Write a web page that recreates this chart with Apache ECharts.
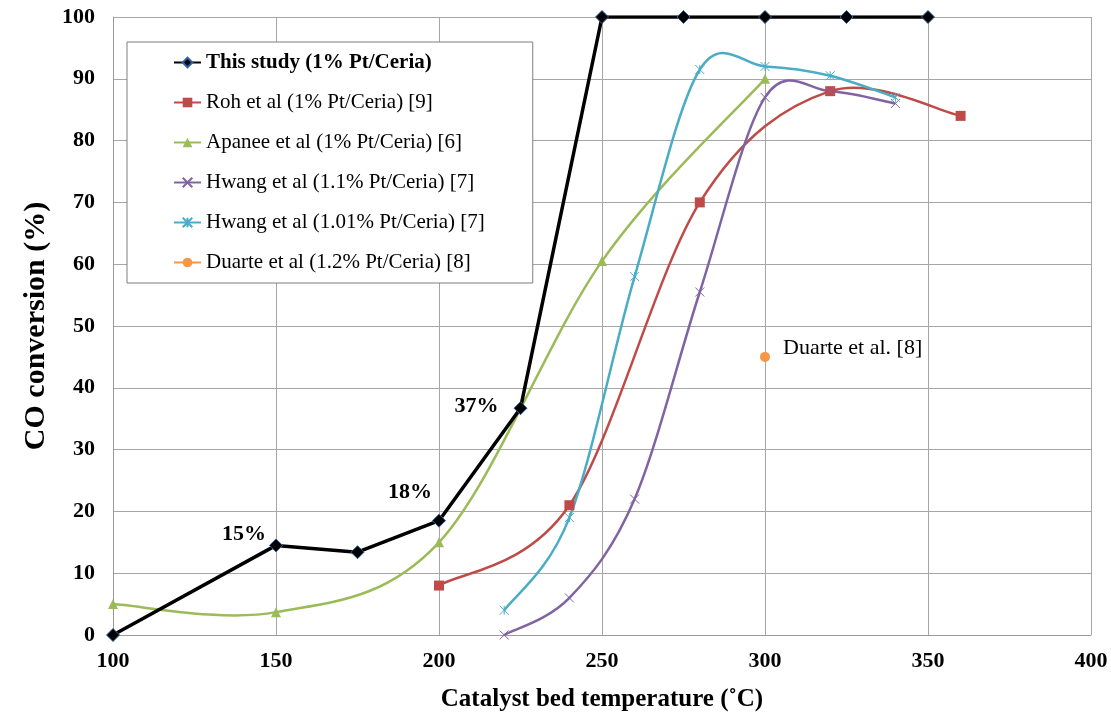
<!DOCTYPE html>
<html><head><meta charset="utf-8">
<script src="https://cdn.jsdelivr.net/npm/echarts@6/dist/echarts.min.js"></script>
<style>html,body{margin:0;padding:0;background:#fff}#c{width:1111px;height:717px}</style>
</head><body><div id="c"></div>
<script>
const thisStudy = [[100,0],[150,14.5],[175,13.4],[200,18.5],[225,36.7],[250,100],[275,100],[300,100],[325,100],[350,100]];
const roh = [[200,8],[240,21],[280,70],[320,88],[360,84]];
const apanee = [[100,5],[150,3.7],[200,15],[250,60.5],[300,90]];
const hwang11 = [[220,0],[240,6],[260,22],[280,55.5],[300,87],[320,88],[340,86]];
const hwang101 = [[220,4],[240,19],[260,58],[280,91.5],[300,92],[320,90.5],[340,87]];
const duarte = [[300,45]];
const pointLabels = {150:'15%',200:'18%',225:'37%'};
const names = ['This study (1% Pt/Ceria)','Roh et al (1% Pt/Ceria) [9]','Apanee et al (1% Pt/Ceria) [6]','Hwang et al (1.1% Pt/Ceria) [7]','Hwang et al (1.01% Pt/Ceria) [7]','Duarte et al (1.2% Pt/Ceria) [8]'];
const xTicks = [100,150,200,250,300,350,400];
const yTicks = [0,10,20,30,40,50,60,70,80,90,100];

const font = 'Liberation Serif, Times New Roman, serif';
const labelCfg = {150:{distance:3,offset:[0,-11]},200:{distance:0,offset:[0,-28]},225:{distance:15,offset:[0,-2]}};
const studyData = thisStudy.map(p => {
  if (pointLabels[p[0]]) {
    const c = labelCfg[p[0]];
    return {value:p, label:{show:true, formatter:pointLabels[p[0]], position:'left', distance:c.distance, offset:c.offset, fontFamily:font, fontWeight:'bold', fontSize:22, color:'#000'}};
  }
  return p;
});
const crossPath = 'path://M0,0L10,10M10,0L0,10';
const starPath = 'path://M0,0L10,10M10,0L0,10M5,0L5,10';

// Excel-like (Catmull-Rom) smoothed curve drawn through the chart's own coordinate system
function smoothCurve(data, color, width) {
  return {
    type:'custom', coordinateSystem:'cartesian2d', data:data, silent:true, z:2,
    renderItem:(params, api) => {
      if (params.dataIndex !== 0) return null;
      const p = data.map(d => api.coord(d));
      const n = p.length;
      let d = 'M' + p[0][0] + ',' + p[0][1];
      for (let i = 0; i < n - 1; i++) {
        const p0 = p[Math.max(i - 1, 0)], p1 = p[i], p2 = p[i + 1], p3 = p[Math.min(i + 2, n - 1)];
        const c1x = p1[0] + (p2[0] - p0[0]) / 6, c1y = p1[1] + (p2[1] - p0[1]) / 6;
        const c2x = p2[0] - (p3[0] - p1[0]) / 6, c2y = p2[1] - (p3[1] - p1[1]) / 6;
        d += 'C' + c1x + ',' + c1y + ',' + c2x + ',' + c2y + ',' + p2[0] + ',' + p2[1];
      }
      return {type:'path', shape:{pathData:d}, style:{fill:'none', stroke:color, lineWidth:width, lineJoin:'round'}};
    }
  };
}

const cRoh = '#BE4B48', cApa = '#9BBB59', cH11 = '#8064A2', cH101 = '#4BACC6', cDu = '#F79646';

const chart = echarts.init(document.getElementById('c'));
chart.setOption({
  animation:false,
  backgroundColor:'#fff',
  grid:{left:113,right:20,top:17,bottom:79},
  xAxis:{type:'value',min:100,max:400,interval:50,
    name:'Catalyst bed temperature (˚C)',nameLocation:'middle',nameGap:52,
    nameTextStyle:{fontFamily:font,fontWeight:'bold',fontSize:25,color:'#000'},
    axisLine:{show:true,lineStyle:{color:'#9a9a9a'}},axisTick:{show:false},
    axisLabel:{fontFamily:font,fontWeight:'bold',fontSize:22,color:'#000',margin:15,
      formatter:v=>xTicks.includes(v)?String(v):''},
    splitLine:{show:true,lineStyle:{color:'#a6a6a6',width:1}}},
  yAxis:{type:'value',min:0,max:100,interval:10,
    name:'CO conversion (%)',nameLocation:'middle',nameGap:51,
    nameTextStyle:{fontFamily:font,fontWeight:'bold',fontSize:30,color:'#000'},
    axisLine:{show:true,lineStyle:{color:'#9a9a9a'}},axisTick:{show:false},
    axisLabel:{fontFamily:font,fontWeight:'bold',fontSize:22,color:'#000',margin:18,
      formatter:v=>yTicks.includes(v)?String(v):''},
    splitLine:{show:true,lineStyle:{color:'#a6a6a6',width:1}}},
  legend:{orient:'vertical',left:127,top:42,itemWidth:27,itemHeight:12,itemGap:19,
    padding:[10,48,10,46],borderColor:'#7f7f7f',borderWidth:1,backgroundColor:'#fff',
    lineStyle:{opacity:1},
    textStyle:{fontFamily:font,fontSize:21,color:'#000'},
    data:[{name:names[0],textStyle:{fontWeight:'bold'}},names[1],names[2],names[3],names[4],names[5]]},
  series:[
    smoothCurve(roh, cRoh, 2.5),
    smoothCurve(apanee, cApa, 2.5),
    smoothCurve(hwang11, cH11, 2.5),
    smoothCurve(hwang101, cH101, 2.5),
    {name:names[5],type:'line',data:duarte,symbol:'circle',symbolSize:10,
      itemStyle:{color:cDu},lineStyle:{color:cDu,width:2.5},z:3,
      label:{show:true,formatter:'Duarte et al. [8]',position:'right',distance:13,offset:[0,-9],fontFamily:font,fontSize:22,color:'#000'}},
    {name:names[1],type:'line',data:roh,symbol:'rect',symbolSize:10,
      itemStyle:{color:cRoh},lineStyle:{color:cRoh,width:2.5,opacity:0},z:3},
    {name:names[2],type:'line',data:apanee,symbol:'triangle',symbolSize:10,
      itemStyle:{color:cApa},lineStyle:{color:cApa,width:2.5,opacity:0},z:3},
    {name:names[3],type:'line',data:hwang11,symbol:crossPath,symbolSize:9,
      itemStyle:{color:cH11,borderColor:cH11,borderWidth:1},lineStyle:{color:cH11,width:2.5,opacity:0},z:3},
    {name:names[4],type:'line',data:hwang101,symbol:starPath,symbolSize:9,
      itemStyle:{color:cH101,borderColor:cH101,borderWidth:1},lineStyle:{color:cH101,width:2.5,opacity:0},z:3},
    {name:names[0],type:'line',data:studyData,symbol:'diamond',symbolSize:13,
      itemStyle:{color:'#000',borderColor:'#2c5f9e',borderWidth:1},lineStyle:{color:'#000',width:3.5},z:4}
  ]
});
</script></body></html>
